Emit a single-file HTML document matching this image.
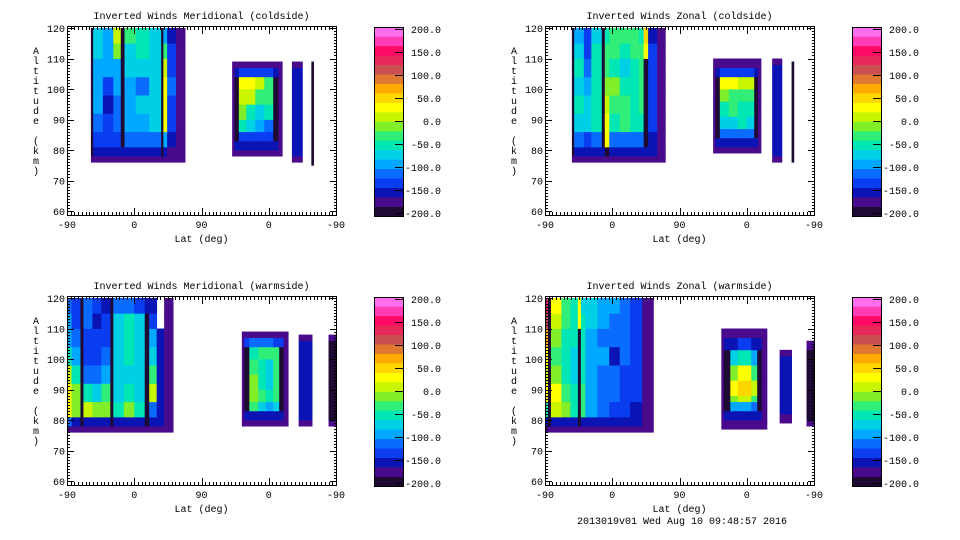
<!DOCTYPE html>
<html><head><meta charset="utf-8"><style>
html,body{margin:0;padding:0;background:#fff}
svg{display:block}
text{font-family:"Liberation Mono",monospace;font-size:10px;fill:#000}
</style></head><body>
<svg id="chart" width="960" height="540" viewBox="0 0 960 540" xmlns="http://www.w3.org/2000/svg"></svg>
<script>
// colour scale (bottom -> top), 20 bands of 20 m/s from -200 to 200
const bandColors = ["#1e0a32","#4a0a8c","#0a14b4","#0a3cf0","#0a6cff","#00a8ff","#00d0e6","#00e6b4","#30ee78","#80ee28","#c8f500","#ffff00","#ffd700","#ffaa00","#e07830","#c85050","#e6285a","#ff0a64","#ff3cb4","#ff6eee"];
const cbarTicks = [200,150,100,50,0,-50,-100,-150,-200];
const xTickLabels = ["-90","0","90","0","-90"];
const yTickLabels = [120,110,100,90,80,70,60];
const panelTitles = ["Inverted Winds Meridional (coldside)","Inverted Winds Zonal (coldside)","Inverted Winds Meridional (warmside)","Inverted Winds Zonal (warmside)"];

// ---- blobs: lat edges (track units 0..360), alt edges (km), values rows bottom->top ----
const tlBlob1Lats = [32,35,48,62,72,77,92,110,126,129,134,146,158];
const tlBlob1Alts = [76,78,81,86,92,98,104,110,115,120];
const tlBlob1Vals = [
[-175,-175,-175,-175,-175,-175,-175,-175,-175,-175,-175,-175],
[-200,-160,-160,-160,-160,-160,-160,-160,-200,-160,-170,-175],
[-200,-130,-140,-140,-200,-120,-120,-110,-200,-100,-150,-175],
[-200,-110,-140,-120,-200,-100,-90,-70,-200,20,-140,-175],
[-200,-100,-150,-110,-200,-100,-80,-70,-200,20,-130,-175],
[-200,-90,-140,-90,-200,-90,-110,-80,-200,20,-120,-175],
[-200,-90,-100,-90,-200,-80,-80,-80,-200,10,-130,-175],
[-200,-80,-100,-20,-200,-70,-60,-80,-200,-40,-140,-175],
[-200,-70,-100,10,-200,-40,-60,-80,-200,-90,-150,-175]];
const tlBlob2Lats = [221,224,230,240,252,264,276,283,288];
const tlBlob2Alts = [78,80,83,86,90,95,100,104,107,109];
const tlBlob2Vals = [
[-175,-175,-175,-175,-175,-175,-175,-175],
[-175,-160,-150,-150,-150,-150,-160,-175],
[-175,-200,-130,-130,-130,-140,-200,-175],
[-175,-200,-60,-80,-90,-110,-200,-175],
[-175,-200,-20,-60,-80,-60,-200,-175],
[-175,-200,10,0,-30,-40,-200,-175],
[-175,-200,20,20,0,-40,-200,-175],
[-175,-160,-140,-140,-140,-140,-160,-175],
[-175,-175,-175,-175,-175,-175,-175,-175]];
const tlBlob3Lats = [301,315]; const tlBlob3Alts = [76,78,107,109]; const tlBlob3Vals = [[-175],[-150],[-175]];
const tlBlob4Lats = [327,330]; const tlBlob4Alts = [75,109]; const tlBlob4Vals = [[-200]];

const trBlob1Lats = [36,39,52,62,76,80,86,100,114,126,132,138,150,161];
const trBlob1Alts = [76,78,81,86,92,98,104,110,115,120];
const trBlob1Vals = [
[-175,-175,-175,-175,-175,-175,-175,-175,-175,-175,-175,-175,-175],
[-200,-160,-160,-160,-160,-200,-160,-160,-160,-160,-160,-160,-175],
[-200,-120,-130,-120,-200,30,-120,-110,-110,-120,-200,-150,-175],
[-200,-70,-70,-60,-200,30,-50,-40,-50,-60,-200,-140,-175],
[-200,-60,-80,-60,-200,10,-40,-30,-60,-30,-200,-130,-175],
[-200,-70,-100,-60,-200,-20,-10,-50,-60,-40,-200,-130,-175],
[-200,-60,-110,-50,-200,-40,-50,-80,-50,-40,-200,-130,-175],
[-200,-80,-140,-60,-200,-40,-40,-60,-40,-40,30,-140,-175],
[-200,-90,-140,-70,-200,-60,-40,-40,-40,-60,40,-150,-175]];
const trBlob2Lats = [225,228,234,246,258,270,280,285,289];
const trBlob2Alts = [79,81,84,87,91,96,100,104,107,110];
const trBlob2Vals = [
[-175,-175,-175,-175,-175,-175,-175,-175],
[-175,-160,-160,-160,-160,-160,-160,-175],
[-175,-200,-120,-120,-120,-120,-200,-175],
[-175,-200,-70,-70,-60,-70,-200,-175],
[-175,-200,-50,-40,-50,-50,-200,-175],
[-175,-200,-20,-30,-40,-30,-200,-175],
[-175,-200,30,20,0,10,-200,-175],
[-175,-150,-130,-130,-130,-130,-150,-175],
[-175,-175,-175,-175,-175,-175,-175,-175]];
const trBlob3Lats = [304,317]; const trBlob3Alts = [76,78,108,110]; const trBlob3Vals = [[-175],[-150],[-175]];
const trBlob4Lats = [330,333]; const trBlob4Alts = [76,109]; const trBlob4Vals = [[-200]];

const blBlob1Lats = [0,6,18,22,34,46,58,62,76,90,104,110,120,130,142];
const blBlob1Alts = [76,78,81,86,92,98,104,110,115,120];
const blBlob1Vals = [
[-175,-175,-175,-175,-175,-175,-175,-175,-175,-175,-175,-175,-175,-175],
[-120,-150,-200,-150,-150,-150,-200,-150,-150,-150,-200,-150,-160,-175],
[30,-20,-200,10,-20,-20,-200,-60,-10,-60,-200,-110,-160,-175],
[30,-10,-200,-50,-80,-40,-200,-80,-50,-80,-200,10,-150,-175],
[0,-60,-200,-120,-120,-100,-200,-70,-80,-70,-200,-30,-150,-175],
[-60,-100,-200,-130,-140,-120,-200,-70,-60,-80,-200,-80,-150,-175],
[-100,-120,-200,-140,-140,-130,-200,-70,-50,-70,-200,-100,-150,-175],
[-100,-130,-200,-120,-150,-140,-200,-80,-50,-80,-200,-140,null,-175],
[-110,-130,-200,-110,-130,-150,-200,-120,-120,-140,-150,-160,null,-175]];
const blBlob2Lats = [234,237,244,256,266,276,284,290,296];
const blBlob2Alts = [78,80,83,86,90,95,100,104,107,109];
const blBlob2Vals = [
[-175,-175,-175,-175,-175,-175,-175,-175],
[-175,-160,-150,-150,-150,-150,-160,-175],
[-175,-200,-40,-70,-90,-80,-200,-175],
[-175,-200,-10,-40,-50,-30,-200,-175],
[-175,-200,-20,-60,-80,-40,-200,-175],
[-175,-200,-30,-60,-70,-40,-200,-175],
[-175,-200,-50,-40,-40,-30,-200,-175],
[-175,-140,-120,-120,-120,-140,-140,-175],
[-175,-175,-175,-175,-175,-175,-175,-175]];
const blBlob3Lats = [310,328]; const blBlob3Alts = [78,80,106,108]; const blBlob3Vals = [[-175],[-150],[-175]];
const blBlob4Lats = [350,360]; const blBlob4Alts = [78,80,106,108]; const blBlob4Vals = [[-175],[-200],[-175]];

const brBlob1Lats = [0,4,8,22,34,44,48,54,70,86,100,114,130,145];
const brBlob1Alts = [76,78,81,86,92,98,104,110,115,120];
const brBlob1Vals = [
[-175,-175,-175,-175,-175,-175,-175,-175,-175,-175,-175,-175,-175],
[-150,-200,-150,-150,-150,-200,-150,-160,-160,-160,-160,-160,-175],
[-60,-200,10,-20,-60,-200,-40,-100,-120,-130,-140,-150,-175],
[20,-200,30,-30,-60,-200,-40,-90,-110,-120,-130,-140,-175],
[10,-200,-20,-60,-80,-200,-60,-90,-110,-110,-130,-130,-175],
[30,-200,-30,-60,-80,-200,-60,-90,-100,-160,-110,-130,-175],
[60,-200,-10,-50,-60,-200,-50,-100,-120,-120,-110,-130,-175],
[100,-200,10,-30,-50,20,-60,-80,-100,-110,-110,-130,-175],
[130,-200,20,-30,-60,30,-80,-80,-90,-100,-110,-140,-175]];
const brBlob2Lats = [236,239,248,258,266,276,284,290,297];
const brBlob2Alts = [77,80,83,86,88,93,98,103,107,110];
const brBlob2Vals = [
[-175,-175,-175,-175,-175,-175,-175,-175],
[-175,-160,-150,-150,-150,-150,-160,-175],
[-175,-200,-100,-90,-90,-110,-200,-175],
[-175,-200,-20,10,10,-30,-200,-175],
[-175,-200,20,50,50,10,-200,-175],
[-175,-200,-10,20,20,-30,-200,-175],
[-175,-200,-80,-60,-60,-90,-200,-175],
[-175,-160,-150,-140,-140,-150,-160,-175],
[-175,-175,-175,-175,-175,-175,-175,-175]];
const brBlob3Lats = [314,330]; const brBlob3Alts = [79,82,101,103]; const brBlob3Vals = [[-175],[-150],[-175]];
const brBlob4Lats = [350,360]; const brBlob4Alts = [78,80,103,106]; const brBlob4Vals = [[-175],[-200],[-175]];

const panelBlobs = [
 [[tlBlob1Lats,tlBlob1Alts,tlBlob1Vals],[tlBlob2Lats,tlBlob2Alts,tlBlob2Vals],[tlBlob3Lats,tlBlob3Alts,tlBlob3Vals],[tlBlob4Lats,tlBlob4Alts,tlBlob4Vals]],
 [[trBlob1Lats,trBlob1Alts,trBlob1Vals],[trBlob2Lats,trBlob2Alts,trBlob2Vals],[trBlob3Lats,trBlob3Alts,trBlob3Vals],[trBlob4Lats,trBlob4Alts,trBlob4Vals]],
 [[blBlob1Lats,blBlob1Alts,blBlob1Vals],[blBlob2Lats,blBlob2Alts,blBlob2Vals],[blBlob3Lats,blBlob3Alts,blBlob3Vals],[blBlob4Lats,blBlob4Alts,blBlob4Vals]],
 [[brBlob1Lats,brBlob1Alts,brBlob1Vals],[brBlob2Lats,brBlob2Alts,brBlob2Vals],[brBlob3Lats,brBlob3Alts,brBlob3Vals],[brBlob4Lats,brBlob4Alts,brBlob4Vals]]
];

const NS = "http://www.w3.org/2000/svg";
const svg = document.getElementById("chart");
function mk(tag, attrs, parent) {
  const e = document.createElementNS(NS, tag);
  for (const k in attrs) e.setAttribute(k, attrs[k]);
  (parent || svg).appendChild(e);
  return e;
}
function colorFor(v) {
  let i = Math.floor((v + 200) / 20);
  if (i < 0) i = 0; if (i > 19) i = 19;
  return bandColors[i];
}

const origins = [[67,0],[545,0],[67,270],[545,270]];
const PW = 269;
origins.forEach((o, p) => {
  const ox = o[0], oy = o[1];
  const xS = u => ox + u * PW / 360;
  const yS = a => oy + 28 + (120 - a) * (183 / 60);
  const g = mk("g", {});
  
  
  const t = mk("text", {x: ox + PW / 2, y: oy + 19, "text-anchor": "middle"}, g);
  t.textContent = panelTitles[p];
  
  
  panelBlobs[p].forEach((b, bi) => {
    const lats = b[0], alts = b[1], vals = b[2];
    const bg = mk("g", {}, g);
    
    
    for (let r = 0; r < vals.length; r++) {
      for (let c = 0; c < vals[r].length; c++) {
        const v = vals[r][c];
        if (v === null) continue;
        const x0 = xS(lats[c]), x1 = xS(lats[c + 1]);
        const y0 = yS(alts[r + 1]), y1 = yS(alts[r]);
        const cell = mk("rect", {x: x0.toFixed(2), y: y0.toFixed(2), width: (x1 - x0 + 0.4).toFixed(2), height: (y1 - y0 + 0.4).toFixed(2), fill: colorFor(v)}, bg);
        
        
      }
    }
  });
  const fr = mk("rect", {x: ox + 0.5, y: oy + 26.5, width: PW, height: 189, fill: "none", stroke: "#000", "stroke-width": 1}, g);
  
  
  let d = "";
  for (let a = 60; a <= 120; a += 1) {
    const y = Math.round(yS(a)) + 0.5;
    const len = a % 10 === 0 ? 7 : 3;
    d += `M${ox} ${y}h${len}M${ox + PW + 1} ${y}h${-len}`;
  }
  for (let u = 0; u <= 360; u += 5) {
    const x = Math.round(xS(u)) + 0.5;
    const len = u % 90 === 0 ? 7 : 3;
    d += `M${x} ${oy + 27}v${len}M${x} ${oy + 215}v${-len}`;
  }
  const tk = mk("path", {d: d, stroke: "#000", "stroke-width": 1, fill: "none"}, g);
  
  
  yTickLabels.forEach(a => {
    const l = mk("text", {x: ox - 2, y: yS(a) + 4, "text-anchor": "end"}, g);
    l.textContent = a;
    
    
  });
  xTickLabels.forEach((s, i) => {
    const l = mk("text", {x: xS(i * 90), y: oy + 228, "text-anchor": "middle"}, g);
    l.textContent = s;
    
    
  });
  const xt = mk("text", {x: ox + PW / 2, y: oy + 242, "text-anchor": "middle"}, g);
  xt.textContent = "Lat (deg)";
  
  
  const yt = mk("text", {x: ox - 31, y: oy + 54, "text-anchor": "middle"}, g);
  
  
  "Altitude (km)".split("").forEach((ch, i) => {
    const ts = mk("tspan", {x: ox - 31, y: oy + 54 + i * 10}, yt);
    ts.textContent = ch === " " ? "\u00a0" : ch;
  });
  const cx = ox + 307, cy0 = oy + 27, ch = 189, cw = 29;
  const cb = mk("g", {}, g);
  
  
  bandColors.forEach((c, i) => {
    const y = cy0 + ch - (i + 1) * ch / 20;
    const r = mk("rect", {x: cx, y: y.toFixed(2), width: cw, height: (ch / 20 + 0.3).toFixed(2), fill: c}, cb);
    
    
  });
  mk("rect", {x: cx + 0.5, y: cy0 + 0.5, width: cw, height: ch, fill: "none", stroke: "#000"}, cb);
  cbarTicks.forEach(v => {
    const y = cy0 + 2 + (200 - v) / 400 * (ch - 5);
    mk("path", {d: `M${cx + cw - 8} ${Math.round(y) + 0.5}h8`, stroke: "#000"}, cb);
    const l = mk("text", {x: cx + 67, y: y + 4, "text-anchor": "end"}, cb);
    l.textContent = v.toFixed(1);
    
    
  });
});
const ft = mk("text", {x: 682, y: 524, "text-anchor": "middle"});
ft.textContent = "2013019v01 Wed Aug 10 09:48:57 2016";


</script>
</body></html>
